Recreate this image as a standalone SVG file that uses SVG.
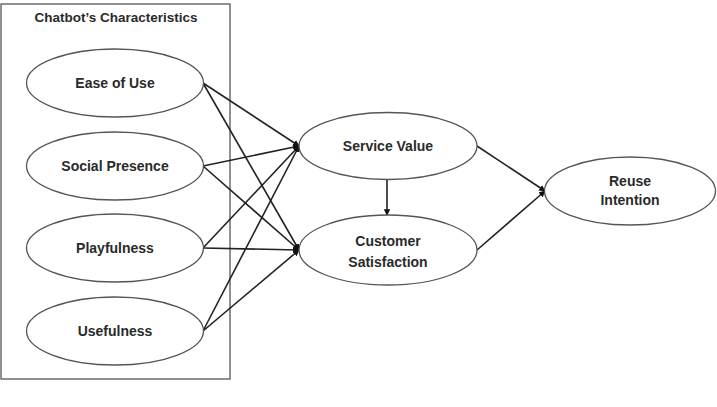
<svg xmlns="http://www.w3.org/2000/svg" width="717" height="407" viewBox="0 0 717 407">
<style>
.node ellipse{fill:#fff;stroke:#555;stroke-width:1.3}
text{font-family:"Liberation Sans",Arial,sans-serif;font-weight:bold;fill:#2a2a2a;text-anchor:middle}
.lbl{font-size:14px}
.title{font-size:13.5px}
#connectors line{stroke:#222;stroke-width:1.6;marker-end:url(#ah)}
</style>
<defs>
<marker id="ah" viewBox="0 0 10 10" refX="9" refY="5" markerWidth="6.5" markerHeight="6.5" markerUnits="userSpaceOnUse" orient="auto">
<path d="M0,0 L10,5 L0,10 z" fill="#111"/>
</marker>
</defs>
<rect width="717" height="407" fill="#fff"/>
<g id="group-box">
<rect x="1" y="4" width="229" height="375" fill="none" stroke="#555" stroke-width="1.3"/>
<text class="title" x="116" y="22">Chatbot’s Characteristics</text>
</g>
<g id="connectors">
<line x1="203" y1="83" x2="299" y2="146"/>
<line x1="203" y1="83" x2="299" y2="250"/>
<line x1="203" y1="166" x2="299" y2="146"/>
<line x1="203" y1="166" x2="299" y2="250"/>
<line x1="203" y1="248" x2="299" y2="146"/>
<line x1="203" y1="248" x2="299" y2="250"/>
<line x1="203" y1="331" x2="299" y2="146"/>
<line x1="203" y1="331" x2="299" y2="250"/>
<line x1="387" y1="179" x2="387" y2="215"/>
<line x1="477" y1="146" x2="545" y2="191"/>
<line x1="477" y1="250" x2="545" y2="191"/>
</g>
<g id="ease-of-use" class="node"><ellipse cx="115" cy="83" rx="88.5" ry="34"/><text class="lbl" x="115" y="88">Ease of Use</text></g>
<g id="social-presence" class="node"><ellipse cx="115" cy="166" rx="88.5" ry="34"/><text class="lbl" x="115" y="171">Social Presence</text></g>
<g id="playfulness" class="node"><ellipse cx="115" cy="248" rx="88.5" ry="34"/><text class="lbl" x="115" y="253">Playfulness</text></g>
<g id="usefulness" class="node"><ellipse cx="115" cy="331" rx="88.5" ry="34"/><text class="lbl" x="115" y="336">Usefulness</text></g>
<g id="service-value" class="node"><ellipse cx="388" cy="146" rx="89" ry="33.5"/><text class="lbl" x="388" y="151">Service Value</text></g>
<g id="customer-satisfaction" class="node"><ellipse cx="388" cy="250" rx="89" ry="35"/><text class="lbl" x="388" y="246">Customer</text><text class="lbl" x="388" y="267">Satisfaction</text></g>
<g id="reuse-intention" class="node"><ellipse cx="630" cy="191" rx="85.5" ry="34"/><text class="lbl" x="630" y="186">Reuse</text><text class="lbl" x="630" y="205">Intention</text></g>
</svg>
